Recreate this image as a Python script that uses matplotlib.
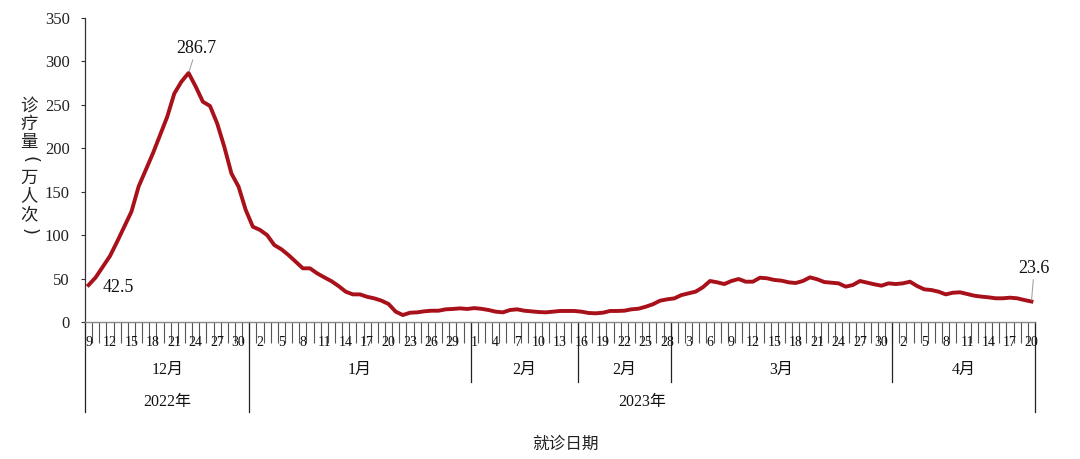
import numpy as np
import pandas as pd
import matplotlib
matplotlib.use("Agg")
import matplotlib.pyplot as plt
import matplotlib.transforms as mtransforms

# ---------------- data ----------------
start_date = "2022-12-09"
end_date = "2023-04-20"
visits = [
    # Dec 9 - Dec 31
    42.5, 51.4, 63.7, 76.0, 92.5, 109.7, 127.0, 155.8, 175.0, 194.0, 215.0, 236.0,
    263.0, 276.7, 286.7, 271.0, 253.6, 248.7, 228.7, 201.8, 171.0, 155.8, 129.0,
    # Jan 1 - Jan 31
    109.7, 106.0, 100.0, 88.6, 83.7, 77.0, 69.4, 61.8, 61.8, 56.0, 51.4, 47.0,
    41.4, 34.9, 31.8, 31.8, 29.0, 27.2, 24.6, 20.7, 11.9, 8.0, 10.7, 11.1, 12.3,
    13.0, 13.0, 14.6, 15.0, 15.7, 15.0,
    # Feb 1 - Feb 28
    16.0, 15.2, 13.8, 11.9, 11.1, 13.8, 14.6, 13.0, 12.3, 11.5, 11.1, 11.9, 12.7,
    12.7, 12.7, 11.9, 10.4, 10.0, 10.7, 12.7, 12.7, 13.0, 14.6, 15.3, 17.6, 20.4,
    24.5, 26.1,
    # Mar 1 - Mar 31
    27.2, 31.0, 33.0, 35.0, 40.0, 47.2, 45.7, 43.7, 47.2, 49.5, 46.4, 46.4, 51.0,
    50.3, 48.4, 47.6, 45.7, 44.9, 47.2, 51.4, 49.2, 46.0, 45.3, 44.5, 40.7, 42.6,
    47.2, 45.3, 43.4, 41.8, 44.5,
    # Apr 1 - Apr 20
    43.7, 44.5, 46.4, 41.4, 37.6, 36.8, 34.9, 31.8, 33.7, 34.2, 32.2, 30.3, 29.2,
    28.4, 27.3, 27.3, 28.0, 27.3, 25.3, 23.6,
]
month_labels = ["12月", "1月", "2月", "2月", "3月", "4月"]
month_starts = ["2022-12-09", "2023-01-01", "2023-02-01", "2023-02-16", "2023-03-01", "2023-04-01"]
year_labels = ["2022年", "2023年"]
year_starts = ["2022-12-09", "2023-01-01"]
y_ticks = [0, 50, 100, 150, 200, 250, 300, 350]
y_label = "诊疗量（万人次）"
x_label = "就诊日期"
label_every = 3

dates = pd.date_range(start_date, end_date, freq="D")
n = len(dates)
x = np.arange(n) + 0.5
vals = np.array(visits)

def idx(d):
    return int((pd.Timestamp(d) - dates[0]).days)

# ---------------- figure ----------------
W, H = 1080, 459
fig = plt.figure(figsize=(W / 100, H / 100), dpi=100)
ax = fig.add_axes([85 / W, 1 - 322 / H, (1035 - 85) / W, (322 - 18) / H])

serif = ["Liberation Serif", "Noto Sans CJK SC"]
cjk = ["Noto Sans CJK SC", "DejaVu Sans"]
line_color = "#A8101A"

ax.plot(x, vals, color=line_color, lw=2.8, solid_joinstyle="round", clip_on=False, zorder=3)

ax.set_xlim(0, n)
ax.set_ylim(0, 350)
ax.set_yticks(y_ticks)
ax.set_yticklabels([str(v) for v in y_ticks], fontfamily=serif, fontsize=12)
ax.tick_params(axis="y", length=3, width=0.8, color="#333333", pad=8, labelcolor="#222222")

for s in ["top", "right"]:
    ax.spines[s].set_visible(False)
ax.spines["left"].set_color("#333333")
ax.spines["left"].set_linewidth(0.9)
ax.spines["bottom"].set_color("#888888")
ax.spines["bottom"].set_linewidth(1.0)

ax.set_xticks([])
ax.set_xticks(np.arange(0, n + 1), minor=True)
ax.tick_params(axis="x", which="minor", length=15, width=0.8, color="#555555", direction="out")

trans = mtransforms.blended_transform_factory(ax.transData, fig.transFigure)

def fy(py):
    return 1 - py / H

# day labels
for i in range(0, n, label_every):
    ax.text(x[i], fy(342), str(dates[i].day), transform=trans, ha="center", va="center",
            fontsize=10, fontfamily=serif, color="#111111")

# month separators and labels
mb = [idx(d) for d in month_starts] + [n]
for k, lab in enumerate(month_labels):
    a, b = mb[k], mb[k + 1]
    ax.text((a + b) / 2, fy(370), lab, transform=trans, ha="center", va="center",
            fontsize=11.5, fontfamily=serif, color="#111111")
yb = [idx(d) for d in year_starts] + [n]
for k, lab in enumerate(year_labels):
    a, b = yb[k], yb[k + 1]
    ax.text((a + b) / 2, fy(402), lab, transform=trans, ha="center", va="center",
            fontsize=11.5, fontfamily=serif, color="#111111")

for b in mb:
    bottom = 412 if b in yb else 382
    ax.plot([b, b], [fy(322), fy(bottom)], transform=trans, color="#222222", lw=0.9,
            clip_on=False)

# axis titles
ax.text((0 + n) / 2 + 0.7, fy(444), x_label, transform=trans, ha="center", va="center",
        fontsize=12, fontfamily=cjk, color="#222222")
# vertical y label, one character per row; brackets drawn as turned narrow brackets
step = 18
top_c = 106
bracket = {"（": "(", "）": ")"}
for k, ch in enumerate(y_label):
    if ch in bracket:
        fig.text(29 / W, fy(top_c + k * step), bracket[ch], ha="center", va="center",
                 fontsize=13, fontfamily=["DejaVu Sans"], rotation=-90, color="#222222")
    else:
        fig.text(29 / W, fy(top_c + k * step), ch, ha="center", va="center", fontsize=12.5,
                 fontfamily=cjk, color="#222222")

# annotations
peak_i = int(np.argmax(vals))
ax.annotate(f"{vals[peak_i]:.1f}", xy=(x[peak_i], vals[peak_i]), xytext=(x[peak_i] + 1.1, 305),
            ha="center", va="bottom", fontsize=13, fontfamily=serif, color="#111111",
            arrowprops=dict(arrowstyle="-", color="#999999", lw=0.7, shrinkA=0, shrinkB=1))
ax.text(x[0] + 4.2, 40, f"{vals[0]:.1f}", ha="center", va="center", fontsize=13,
        fontfamily=serif, color="#111111")
ax.annotate(f"{vals[-1]:.1f}", xy=(x[-1], vals[-1]), xytext=(x[-1] + 0.4, 52),
            ha="center", va="bottom", fontsize=13, fontfamily=serif, color="#111111",
            arrowprops=dict(arrowstyle="-", color="#999999", lw=0.7, shrinkA=0, shrinkB=1))

fig.savefig("out.png", dpi=100, facecolor="white")
